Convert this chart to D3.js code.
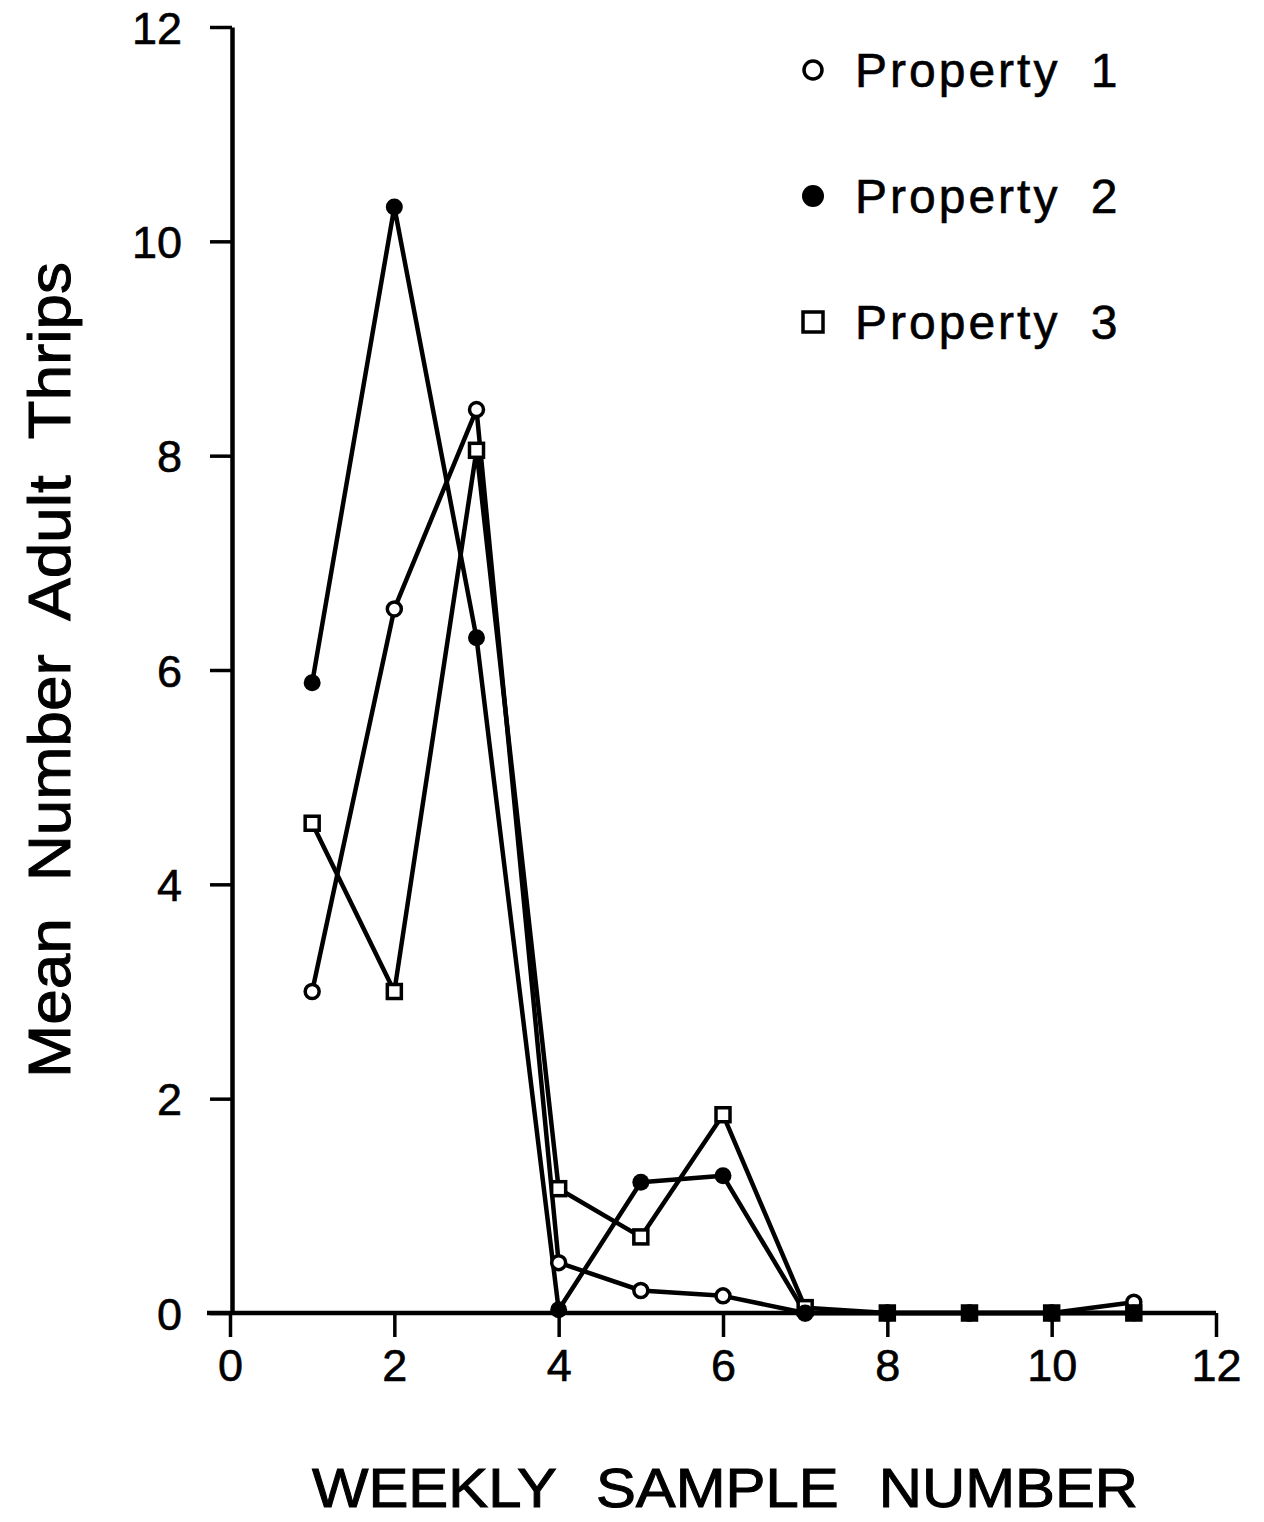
<!DOCTYPE html>
<html>
<head>
<meta charset="utf-8">
<script src="https://cdn.jsdelivr.net/npm/d3@7"></script>
<style>
  body { margin: 0; background: #fff; }
  text { font-family: "Liberation Sans", Arial, sans-serif; fill: #000; }
</style>
</head>
<body>
<svg id="chart" width="1264" height="1522"></svg>
<script>
// weekly samples
const weeks = [1, 2, 3, 4, 5, 6, 7, 8, 9, 10, 11];
const property1 = [3.0, 6.57, 8.43, 0.47, 0.21, 0.16, 0.0, 0.0, 0.0, 0.0, 0.1];
const property2 = [5.88, 10.32, 6.3, 0.03, 1.22, 1.28, 0.0, 0.0, 0.0, 0.0, 0.0];
const property3 = [4.57, 3.0, 8.05, 1.16, 0.71, 1.85, 0.05, 0.0, 0.0, 0.0, 0.0];
const seriesNames = ["Property 1", "Property 2", "Property 3"];
const xTicks = [0, 2, 4, 6, 8, 10, 12];
const yTicks = [0, 2, 4, 6, 8, 10, 12];

const svg = d3.select('#chart');

let x = d3.scaleLinear().domain([0, 12]).range([230, 1216]);
let y = d3.scaleLinear().domain([0, 12]).range([1313, 27]);

// axes
let xAxis = svg.append('g')
    .attr('transform', 'translate(0,' + y(0) + ')')
    .call(d3.axisBottom(x).tickValues(xTicks).tickSize(24).tickPadding(12).tickSizeOuter(0));
let yAxis = svg.append('g')
    .attr('transform', 'translate(' + (x(0) + 2) + ',0)')
    .call(d3.axisLeft(y).tickValues(yTicks).tickSize(22).tickPadding(28).tickSizeOuter(0));

[xAxis, yAxis].forEach(function(a) {
    a.select('.domain').attr('stroke', '#000').attr('stroke-width', 4.5);
    a.selectAll('.tick line').attr('stroke', '#000').attr('stroke-width', 3.5);
    a.selectAll('.tick text')
        .style('font-family', '"Liberation Sans", Arial, sans-serif')
        .style('font-size', '45px')
        .attr('fill', '#000')
        .attr('stroke', '#000')
        .attr('stroke-width', 0.6);
});
// x axis extends slightly left of the y axis
xAxis.select('.domain').attr('d', 'M' + (x(0) - 23) + ',0H' + x(12));
xAxis.selectAll('.tick text').attr('dy', '0.71em');
yAxis.selectAll('.tick text').attr('dy', '0.36em');

// lines
let line = d3.line()
    .x(function(d) { return x(d[0]); })
    .y(function(d) { return y(d[1]); });

let series = [property1, property2, property3].map(function(vals) {
    return weeks.map(function(w, i) { return [w, vals[i]]; });
});

svg.append('g').selectAll('path')
    .data(series)
    .enter().append('path')
    .attr('d', line)
    .attr('fill', 'none')
    .attr('stroke', '#000')
    .attr('stroke-width', 4.5)
    .attr('stroke-linejoin', 'round');

// markers: open circles, squares, then filled circles on top
svg.append('g').selectAll('circle')
    .data(series[0])
    .enter().append('circle')
    .attr('cx', function(d) { return x(d[0]); })
    .attr('cy', function(d) { return y(d[1]); })
    .attr('r', 7)
    .attr('fill', '#fff')
    .attr('stroke', '#000')
    .attr('stroke-width', 3.5);

svg.append('g').selectAll('rect')
    .data(series[2])
    .enter().append('rect')
    .attr('x', function(d) { return x(d[0]) - 7; })
    .attr('y', function(d) { return y(d[1]) - 7; })
    .attr('width', 14)
    .attr('height', 14)
    .attr('fill', '#fff')
    .attr('stroke', '#000')
    .attr('stroke-width', 3.5);

svg.append('g').selectAll('circle')
    .data(series[1])
    .enter().append('circle')
    .attr('cx', function(d) { return x(d[0]); })
    .attr('cy', function(d) { return y(d[1]); })
    .attr('r', 8.5)
    .attr('fill', '#000');

// legend
let legend = svg.append('g').attr('transform', 'translate(813,70)');
seriesNames.forEach(function(name, i) {
    let row = legend.append('g').attr('transform', 'translate(0,' + (i * 126) + ')');
    if (i === 0) {
        row.append('circle').attr('r', 9).attr('fill', '#fff').attr('stroke', '#000').attr('stroke-width', 3.5);
    } else if (i === 1) {
        row.append('circle').attr('r', 11).attr('fill', '#000');
    } else {
        row.append('rect').attr('x', -10).attr('y', -10).attr('width', 20).attr('height', 20)
            .attr('fill', '#fff').attr('stroke', '#000').attr('stroke-width', 3.5);
    }
    row.append('text')
        .attr('x', 42)
        .attr('y', 17)
        .style('font-size', '48px')
        .style('letter-spacing', '3px')
        .style('word-spacing', '14px')
        .attr('stroke', '#000')
        .attr('stroke-width', 0.6)
        .text(name);
});

// axis titles
svg.append('text')
    .attr('x', 312)
    .attr('y', 1507)
    .attr('textLength', 826)
    .attr('lengthAdjust', 'spacingAndGlyphs')
    .style('font-size', '56px')
    .style('word-spacing', '22px')
    .attr('stroke', '#000')
    .attr('stroke-width', 1)
    .text('WEEKLY SAMPLE NUMBER');

svg.append('text')
    .attr('transform', 'translate(70,1078) rotate(-90)')
    .attr('textLength', 816)
    .attr('lengthAdjust', 'spacingAndGlyphs')
    .style('font-size', '60px')
    .style('word-spacing', '18px')
    .attr('stroke', '#000')
    .attr('stroke-width', 1)
    .text('Mean Number Adult Thrips');
</script>
</body>
</html>
